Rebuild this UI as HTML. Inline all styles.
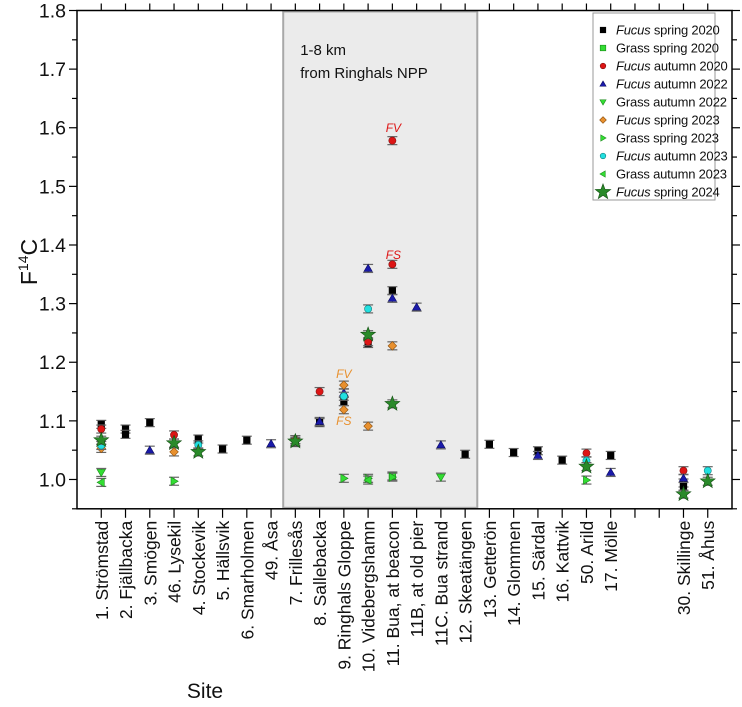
<!DOCTYPE html>
<html><head><meta charset="utf-8"><style>
html,body{margin:0;padding:0;background:#fff;}
svg{display:block;font-family:"Liberation Sans",sans-serif;}
</style></head><body>
<svg id="chart" width="742" height="707" viewBox="0 0 742 707"></svg>
<script>
const siteNames=["1. Strömstad","2. Fjällbacka","3. Smögen","46. Lysekil","4. Stockevik","5. Hällsvik","6. Smarholmen","49. Åsa","7. Frillesås","8. Sallebacka","9. Ringhals Gloppe","10. Videbergshamn","11. Bua, at beacon","11B, at old pier","11C. Bua strand","12. Skeatängen","13. Getterön","14. Glommen","15. Särdal","16. Kattvik","50. Arild","17. Mölle","","","30. Skillinge","51. Åhus"];
const yTicks=[1.0,1.1,1.2,1.3,1.4,1.5,1.6,1.7,1.8];
const fs20Sites=[0,1,1,2,4,5,6,8,9,10,11,12,15,16,17,18,19,21,24,24];
const fs20Vals=[1.094,1.086,1.077,1.097,1.069,1.052,1.067,1.063,1.097,1.133,1.232,1.322,1.043,1.060,1.046,1.049,1.033,1.041,0.994,0.988];
const gs20Sites=[12];
const gs20Vals=[1.006];
const fa20Sites=[0,3,8,9,11,12,12,20,24];
const fa20Vals=[1.086,1.076,1.068,1.150,1.235,1.367,1.578,1.045,1.015];
const fa22Sites=[2,7,9,10,11,12,13,14,18,21,24];
const fa22Vals=[1.050,1.061,1.099,1.148,1.360,1.309,1.294,1.059,1.041,1.012,1.002];
const ga22Sites=[0,14];
const ga22Vals=[1.012,1.004];
const fsp23Sites=[0,3,8,10,10,11,12];
const fsp23Vals=[1.053,1.047,1.068,1.161,1.119,1.091,1.228];
const gsp23Sites=[3,10,11,12,20];
const gsp23Vals=[0.997,1.002,1.002,1.004,0.999];
const fa23Sites=[0,4,10,11,20,25];
const fa23Vals=[1.058,1.059,1.142,1.291,1.032,1.015];
const ga23Sites=[0,11];
const ga23Vals=[0.995,0.999];
const fsp24Sites=[0,3,4,8,11,12,20,24,25];
const fsp24Vals=[1.067,1.062,1.047,1.065,1.247,1.129,1.022,0.975,0.997];

const NS="http://www.w3.org/2000/svg";
const svg=document.getElementById('chart');
const L=77,R=732,T=10.5,B=508.8;
const xMin=-1,xMax=26,yMin=0.95,yMax=1.8;
function xs(i){return L+(i-xMin)/(xMax-xMin)*(R-L);}
function ys(v){return B-(v-yMin)/(yMax-yMin)*(B-T);}
function el(tag,attrs,parent){const e=document.createElementNS(NS,tag);for(const k in attrs)e.setAttribute(k,attrs[k]);(parent||svg).appendChild(e);return e;}

const box=el('rect',{x:xs(7.5),y:T+1,width:xs(15.5)-xs(7.5),height:B-T-2,fill:'#ebebeb',stroke:'#a8a8a8','stroke-width':2});


const t1=el('text',{x:xs(7.5)+17,y:55,'font-size':15,fill:'#111'});t1.textContent='1-8 km';


const t2=el('text',{x:xs(7.5)+17,y:78,'font-size':15,fill:'#111'});t2.textContent='from Ringhals NPP';



const frame=el('rect',{x:L,y:T,width:R-L,height:B-T,fill:'none',stroke:'#000','stroke-width':1.5});



for(let v=0.95;v<=1.801;v+=0.05){
  const y=ys(v);const major=Math.abs(Math.round(v*10)-v*10)<0.01;
  const len=major?8:5;
  el('line',{x1:L-len,x2:L,y1:y,y2:y,stroke:'#000','stroke-width':1.2});
  el('line',{x1:R,x2:R+len,y1:y,y2:y,stroke:'#000','stroke-width':1.2});
}
yTicks.forEach(v=>{
  const t=el('text',{x:L-11,y:ys(v)+7,'font-size':19.5,'text-anchor':'end',fill:'#111'});
  t.textContent=v.toFixed(1);
  
  
});
siteNames.forEach((n,i)=>{
  const x=xs(i);
  el('line',{x1:x,x2:x,y1:B,y2:B+9,stroke:'#000','stroke-width':1.2});
  el('line',{x1:x,x2:x,y1:T-7,y2:T,stroke:'#000','stroke-width':1.2});
  if(n){
    const t=el('text',{x:0,y:0,'font-size':17.5,'text-anchor':'end',fill:'#111',transform:`translate(${x+6.5},${B+12}) rotate(-90)`});
    t.textContent=n;
    
    
  }
});
const xt=el('text',{x:205,y:698,'font-size':21,'text-anchor':'middle',fill:'#111'});xt.textContent='Site';


const yt=el('text',{x:0,y:0,'font-size':23,'text-anchor':'middle',fill:'#111',transform:'translate(37,262) rotate(-90)'});
yt.innerHTML='F<tspan font-size="14" dy="-9">14</tspan><tspan dy="9">C</tspan>';



function marker(type,x,y,fill,stroke,s,parent){
  const p=parent||svg;
  if(type==='sq')return el('rect',{x:x-s,y:y-s,width:2*s,height:2*s,fill:fill,stroke:stroke,'stroke-width':0.6},p);
  if(type==='ci')return el('circle',{cx:x,cy:y,r:s,fill:fill,stroke:stroke,'stroke-width':0.6},p);
  let pts;
  if(type==='up')pts=[[0,-s*1.1],[s*1.1,s*0.8],[-s*1.1,s*0.8]];
  if(type==='dn')pts=[[0,s*1.1],[s*1.1,-s*0.8],[-s*1.1,-s*0.8]];
  if(type==='rt')pts=[[s*1.1,0],[-s*0.8,s*1.1],[-s*0.8,-s*1.1]];
  if(type==='lt')pts=[[-s*1.1,0],[s*0.8,s*1.1],[s*0.8,-s*1.1]];
  if(type==='di')pts=[[0,-s*1.2],[s*1.2,0],[0,s*1.2],[-s*1.2,0]];
  if(type==='st'){pts=[];for(let k=0;k<10;k++){const a=-Math.PI/2+k*Math.PI/5;const r=k%2?s*0.75:s*1.8;pts.push([r*Math.cos(a),r*Math.sin(a)]);}}
  return el('polygon',{points:pts.map(q=>(x+q[0])+','+(y+q[1])).join(' '),fill:fill,stroke:stroke,'stroke-width':0.6},p);
}

const series=[
 {name:'fucus-spring-2020',sites:fs20Sites,vals:fs20Vals,t:'sq',f:'#000',s:'#000',z:3.3},
 {name:'grass-spring-2020',sites:gs20Sites,vals:gs20Vals,t:'sq',f:'#33dd33',s:'#1a8a1a',z:3.3},
 {name:'fucus-autumn-2020',sites:fa20Sites,vals:fa20Vals,t:'ci',f:'#dd1515',s:'#801010',z:3.6},
 {name:'fucus-autumn-2022',sites:fa22Sites,vals:fa22Vals,t:'up',f:'#1a1aaa',s:'#0a0a60',z:3.8},
 {name:'grass-autumn-2022',sites:ga22Sites,vals:ga22Vals,t:'dn',f:'#33dd33',s:'#1a8a1a',z:3.8},
 {name:'fucus-spring-2023',sites:fsp23Sites,vals:fsp23Vals,t:'di',f:'#e8902e',s:'#8a5010',z:3.6},
 {name:'grass-spring-2023',sites:gsp23Sites,vals:gsp23Vals,t:'rt',f:'#33dd33',s:'#1a8a1a',z:3.8},
 {name:'fucus-autumn-2023',sites:fa23Sites,vals:fa23Vals,t:'ci',f:'#22e0e0',s:'#108080',z:3.6},
 {name:'grass-autumn-2023',sites:ga23Sites,vals:ga23Vals,t:'lt',f:'#33dd33',s:'#1a8a1a',z:3.8},
 {name:'fucus-spring-2024',sites:fsp24Sites,vals:fsp24Vals,t:'st',f:'#2a8a2a',s:'#135013',z:4.3}
];
series.forEach(sr=>{
  const g=el('g',{});
  
  
  sr.sites.forEach((si,k)=>{
    const x=xs(si),y=ys(sr.vals[k]);const e=4;
    el('line',{x1:x,x2:x,y1:y-e,y2:y+e,stroke:'#666','stroke-width':1},g);
    el('line',{x1:x-5,x2:x+5,y1:y-e,y2:y-e,stroke:'#666','stroke-width':1.2},g);
    el('line',{x1:x-5,x2:x+5,y1:y+e,y2:y+e,stroke:'#666','stroke-width':1.2},g);
    const m=marker(sr.t,x,y,sr.f,sr.s,sr.z,g);
    
    
  });
});
function ann(txt,x,y,c){const t=el('text',{x:x,y:y,'font-size':12,'font-style':'italic','text-anchor':'middle',fill:c});t.textContent=txt;

}
ann('FV',xs(12)+1,132,'#dd1515');ann('FS',xs(12)+1,259,'#dd1515');
ann('FV',xs(10),378,'#e8902e');ann('FS',xs(10),425,'#e8902e');

const lg=el('g',{});


el('rect',{x:593,y:13,width:122,height:187,fill:'#fff',stroke:'#999','stroke-width':1},lg);
const labels=[['Fucus',' spring 2020'],['','Grass spring 2020'],['Fucus',' autumn 2020'],['Fucus',' autumn 2022'],['','Grass autumn 2022'],['Fucus',' spring 2023'],['','Grass spring 2023'],['Fucus',' autumn 2023'],['','Grass autumn 2023'],['Fucus',' spring 2024']];
series.forEach((sr,k)=>{
  const y=30+k*18;
  const sz=k===9?4.5:2.8;
  const m=marker(sr.t,603,y,sr.f,sr.s,sz,lg);
  const t=el('text',{x:616,y:y+4.5,'font-size':13,fill:'#111','letter-spacing':'-0.2'},lg);
  t.innerHTML=(labels[k][0]?'<tspan font-style="italic">'+labels[k][0]+'</tspan>':'')+labels[k][1];
  
  
});
</script>
</body></html>
